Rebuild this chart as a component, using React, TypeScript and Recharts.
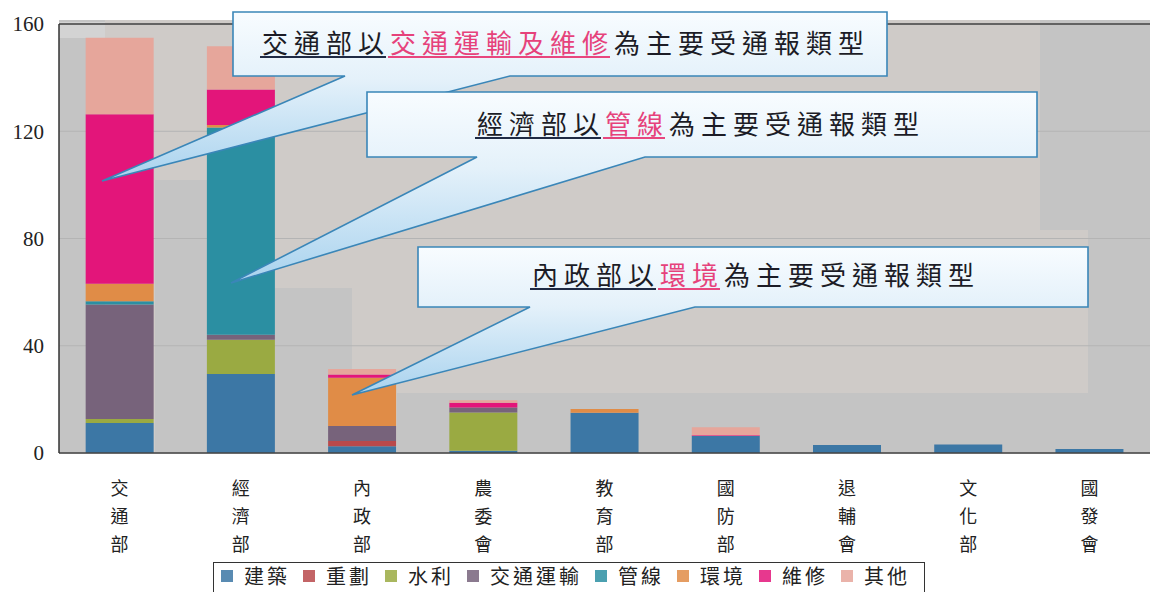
import React from "react";
import { BarChart, Bar, XAxis, YAxis, CartesianGrid, Legend, ReferenceLine } from "recharts";

// categories and stacked series
const CATEGORIES = ["交通部", "經濟部", "內政部", "農委會", "教育部", "國防部", "退輔會", "文化部", "國發會"];
const JIANZHU = [11.2, 29.5, 2.5, 0.8, 15, 6.3, 3, 3.2, 1.5];
const CHONGHUA = [0, 0, 2, 0, 0, 0, 0, 0, 0];
const SHUILI = [1.5, 12.7, 0, 14.3, 0, 0, 0, 0, 0];
const JIAOTONG = [42.7, 1.9, 5.6, 1.9, 0, 0, 0, 0, 0];
const GUANXIAN = [1.2, 77.3, 0, 0, 0, 0, 0, 0, 0];
const HUANJING = [6.5, 0.9, 18, 0, 1.4, 0, 0, 0, 0];
const WEIXIU = [63.2, 13.3, 1.2, 1.7, 0, 0.3, 0, 0, 0];
const QITA = [28.6, 16.1, 2, 1, 0, 3, 0, 0, 0];
const Y_TICKS = [0, 40, 80, 120, 160];

const SERIES_NAMES = ["建築", "重劃", "水利", "交通運輸", "管線", "環境", "維修", "其他"];
const SERIES_VALUES = [JIANZHU, CHONGHUA, SHUILI, JIAOTONG, GUANXIAN, HUANJING, WEIXIU, QITA];
const COLORS = ["#3c77a5", "#b9494b", "#9aaa42", "#77637b", "#2b8fa2", "#e08c47", "#e3157a", "#e6a69b"];

const data = CATEGORIES.map((name, i) => {
  const row: Record<string, string | number> = { name };
  SERIES_NAMES.forEach((s, j) => (row[s] = SERIES_VALUES[j][i]));
  return row;
});

const CJK = '"Noto Sans CJK TC", "Noto Sans CJK SC", sans-serif';
const SERIF = '"Liberation Serif", "DejaVu Serif", serif';

const VerticalTick = (props: any) => {
  const { x, y, payload } = props;
  const chars = String(payload.value).split("");
  return (
    <g>
      {chars.map((c, i) => (
        <text key={i} x={x} y={y + 34 + i * 28} textAnchor="middle" dominantBaseline="central"
          fontFamily={CJK} fontSize={18} fill="#222">
          {c}
        </text>
      ))}
    </g>
  );
};

const LegendBox = () => (
  <div style={{
    border: "1.5px solid #333", height: 40, boxSizing: "border-box", display: "flex",
    alignItems: "flex-start", paddingLeft: 7, paddingTop: 1, background: "#fff", whiteSpace: "nowrap",
  }}>
    {SERIES_NAMES.map((s, i) => (
      <div key={s} style={{ display: "flex", alignItems: "center", marginRight: 13, flexShrink: 0 }}>
        <span style={{ width: 12, height: 12, background: COLORS[i], opacity: 0.85, marginRight: 11, display: "inline-block", flexShrink: 0 }} />
        <span style={{ fontFamily: CJK, fontSize: 20, letterSpacing: 3, color: "#222", lineHeight: "24px" }}>{s}</span>
      </div>
    ))}
  </div>
);

// callout annotations
const ADV = 32;
type Part = { t: string; pink?: boolean; under?: boolean };
const CALLOUTS: { box: number[]; base: number[]; tip: number[]; tx: number; ty: number; parts: Part[] }[] = [
  {
    box: [233, 12, 887, 76], base: [345, 510], tip: [102, 181], tx: 262, ty: 41,
    parts: [{ t: "交通部以", under: true }, { t: "交通運輸及維修", pink: true, under: true }, { t: "為主要受通報類型" }],
  },
  {
    box: [367, 92, 1037, 157], base: [477, 645], tip: [231, 283], tx: 477, ty: 122,
    parts: [{ t: "經濟部以", under: true }, { t: "管線", pink: true, under: true }, { t: "為主要受通報類型" }],
  },
  {
    box: [418, 247, 1088, 307], base: [530, 695], tip: [352, 395], tx: 532, ty: 273,
    parts: [{ t: "內政部以", under: true }, { t: "環境", pink: true, under: true }, { t: "為主要受通報類型" }],
  },
];

const Callouts = () => (
  <svg width={1150} height={592} style={{ position: "absolute", left: 0, top: 0, pointerEvents: "none" }}>
    <defs>
      <linearGradient id="cg" x1="0" y1="0" x2="0" y2="1">
        <stop offset="0" stopColor="#f8fcff" />
        <stop offset="0.4" stopColor="#e4f1fa" />
        <stop offset="1" stopColor="#a8d2ee" />
      </linearGradient>
    </defs>
    {CALLOUTS.map((c, k) => {
      const [x1, y1, x2, y2] = c.box;
      const d = `M${x1},${y1} H${x2} V${y2} H${c.base[1]} L${c.tip[0]},${c.tip[1]} L${c.base[0]},${y2} H${x1} Z`;
      let idx = 0;
      const lines: React.ReactNode[] = [];
      c.parts.forEach((p, j) => {
        const start = c.tx + idx * ADV;
        const end = start + p.t.length * ADV - 6;
        if (p.under) {
          lines.push(
            <line key={j} x1={start - 2} x2={end + 2} y1={c.ty + 16} y2={c.ty + 16}
              stroke={p.pink ? "#e8467e" : "#1f2a44"} strokeWidth={2} />
          );
        }
        idx += p.t.length;
      });
      return (
        <g key={k}>
          <path d={d} fill="url(#cg)" stroke="#3a86b8" strokeWidth={1.6} strokeLinejoin="miter" />
          <text x={c.tx} y={c.ty} dominantBaseline="central" fontFamily={CJK} fontSize={26} letterSpacing={6}>
            {c.parts.map((p, j) => (
              <tspan key={j} fill={p.pink ? "#e6427b" : "#1c1c26"}>{p.t}</tspan>
            ))}
          </text>
          {lines}
        </g>
      );
    })}
  </svg>
);

// stepped grey backdrop of the scanned chart
const Backdrop = () => (
  <svg width={1150} height={592} style={{ position: "absolute", left: 0, top: 0 }}>
    <rect x={59} y={20} width={1091} height={433} fill="#c4c4c4" />
    <path d="M105,20 H1040 V230 H1088 V393 H397 V453 H352 V288 H207 V180 H155 V453 H105 Z" fill="#cfcbc8" />
    <rect x={59} y={22} width={46} height={16} fill="#d3d3d3" />
  </svg>
);

export default function App() {
  return (
    <div style={{ position: "absolute", left: 0, top: 0, width: 1150, height: 592, background: "#fff", overflow: "hidden" }}>
      <Backdrop />
      <div style={{ position: "absolute", left: 0, top: 0 }}>
        <BarChart width={1150} height={592} data={data} margin={{ top: 24, right: 0, left: 0, bottom: 0 }} barCategoryGap="22%">
          <CartesianGrid vertical={false} stroke="#b4b4b4" strokeWidth={1} />
          <XAxis dataKey="name" height={139} tickSize={0} tickMargin={0} tick={<VerticalTick />}
            axisLine={{ stroke: "#444", strokeWidth: 1.5 }} interval={0} />
          <YAxis width={59} domain={[0, 160]} ticks={Y_TICKS} tickSize={0} tickMargin={15}
            axisLine={{ stroke: "#333", strokeWidth: 1.5 }}
            tick={{ fontFamily: SERIF, fontSize: 21, fill: "#222" }} />
          <ReferenceLine y={160} stroke="#444" strokeWidth={1.5} />
          {SERIES_NAMES.map((s, i) => (
            <Bar key={s} dataKey={s} stackId="a" fill={COLORS[i]} isAnimationActive={false} />
          ))}
          <Legend layout="horizontal" verticalAlign="middle" align="center" content={<LegendBox />}
            wrapperStyle={{ position: "absolute", left: 213, top: 562, width: 712, height: 40 }} />
        </BarChart>
      </div>
      <Callouts />
    </div>
  );
}
